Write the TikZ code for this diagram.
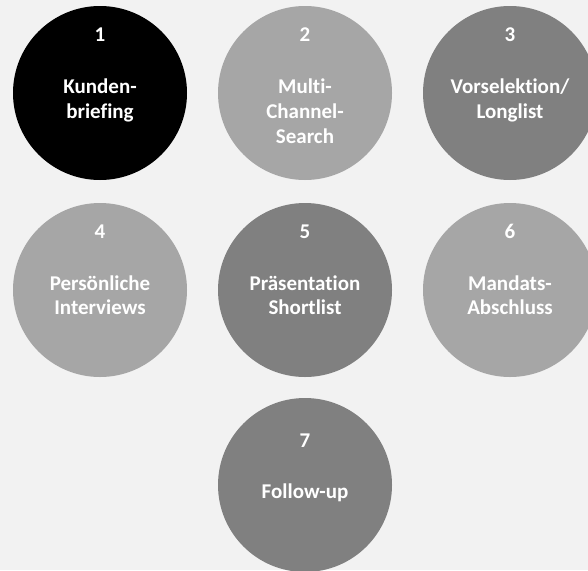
\documentclass[tikz,border=0pt]{standalone}
\usepackage{fontspec}
\setmainfont{Carlito}[Ligatures={NoCommon}]
\definecolor{bg}{HTML}{F2F2F2}
\definecolor{lightg}{HTML}{A6A6A6}
\definecolor{darkg}{HTML}{808080}
\begin{document}
\begin{tikzpicture}[x=1pt,y=-1pt,
  disc/.style={circle,minimum size=174pt,inner sep=0pt,draw=none},
  lbl/.style={anchor=base,text=white,font=\bfseries\fontsize{21}{24}\selectfont,inner sep=0pt}]
\useasboundingbox (0,0) rectangle (588,570);
\clip (0,0) rectangle (588,570);
\fill[bg] (0,0) rectangle (588,570);
\node[disc,fill=black] (c1) at (100,93) {};
\node[disc,fill=lightg] (c2) at (305,93) {};
\node[disc,fill=darkg] (c3) at (510,93) {};
\node[disc,fill=lightg] (c4) at (100,290) {};
\node[disc,fill=darkg] (c5) at (305,290) {};
\node[disc,fill=lightg] (c6) at (510,290) {};
\node[disc,fill=darkg] (c7) at (305,485) {};
% row 1
\node[lbl] (n1) at (100,41) {1};
\node[lbl] (t1a) at (100,93) {Kunden-};
\node[lbl] (t1b) at (100,118) {briefing};
\node[lbl] (n2) at (305,41) {2};
\node[lbl] (t2a) at (305,93) {Multi-};
\node[lbl] (t2b) at (305,118) {Channel-};
\node[lbl] (t2c) at (305,143) {Search};
\node[lbl] (n3) at (510,41) {3};
\node[lbl] (t3a) at (510,93) {Vorselektion/};
\node[lbl] (t3b) at (510,118) {Longlist};
% row 2
\node[lbl] (n4) at (100,238) {4};
\node[lbl] (t4a) at (100,290) {Persönliche};
\node[lbl] (t4b) at (100,314) {Interviews};
\node[lbl] (n5) at (305,238) {5};
\node[lbl] (t5a) at (305,290) {Präsentation};
\node[lbl] (t5b) at (305,314) {Shortlist};
\node[lbl] (n6) at (510,238) {6};
\node[lbl] (t6a) at (510,290) {Mandats-};
\node[lbl] (t6b) at (510,314) {Abschluss};
% row 3
\node[lbl] (n7) at (305,447) {7};
\node[lbl] (t7a) at (305,498) {Follow-up};
\end{tikzpicture}
\end{document}
